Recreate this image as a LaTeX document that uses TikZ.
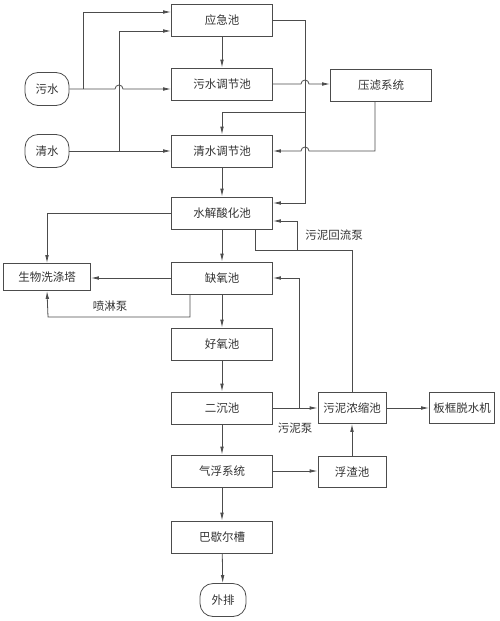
\documentclass[tikz,border=0pt]{standalone}
\usepackage{fontspec}
\newfontfamily\cjk{Noto Sans CJK SC}
\usetikzlibrary{positioning, arrows.meta, calc}

\begin{document}
\begin{tikzpicture}[
		x=1pt, y=-1pt,
		font=\cjk\fontsize{11.5}{13}\selectfont,
		tank/.style={draw=black!70, line width=0.8pt, text=black!80, minimum width=101pt, minimum height=32pt, inner sep=0pt},
		smalltank/.style={tank, minimum width=68pt, minimum height=31pt},
		terminal/.style={draw=black!70, line width=0.8pt, text=black!80, rounded corners=13pt, minimum width=44pt, minimum height=33pt, inner sep=0pt},
		flow/.style={-{Latex[length=8pt, width=3.6pt]}, line width=0.8pt, black!70},
		pipe/.style={line width=0.8pt, black!70},
		pumplabel/.style={text=black!80}
		]
		\useasboundingbox (0,0) rectangle (500,621);
		
		% 1. Main treatment line
		\node[tank] (yj) at (222,20) {应急池};
		\node[tank] (wtj) at (222,84) {污水调节池};
		\node[tank] (qtj) at (222,151) {清水调节池};
		\node[tank] (sj) at (222,213) {水解酸化池};
		\node[tank] (qy) at (222,278) {缺氧池};
		\node[tank] (hy) at (222,344) {好氧池};
		\node[tank] (ec) at (222,408) {二沉池};
		\node[tank] (qf) at (222,471) {气浮系统};
		\node[tank] (bx) at (222,537) {巴歇尔槽};
		\node[terminal, minimum width=46pt] (wp) at (223,600) {外排};
		
		% 2. Inlets and side units
		\node[terminal] (wu) at (47,89) {污水};
		\node[terminal] (qs) at (47,151) {清水};
		\node[tank] (yl) at (381,85) {压滤系统};
		\node[tank, minimum width=87pt, minimum height=27pt] (sw) at (47,277) {生物洗涤塔};
		\node[smalltank] (wn) at (352,408) {污泥浓缩池};
		\node[tank, minimum width=65pt, minimum height=31pt] (bk) at (462,408) {板框脱水机};
		\node[smalltank] (fz) at (352,472) {浮渣池};
		
		% Junctions
		\coordinate (wj) at (83,89);
		\coordinate (qj) at (119,151);
		\coordinate (rj) at (305,112);
		\coordinate (pj) at (297,250);
		\coordinate (nj) at (299,408);
		
		% Inlet pipes (hop where they cross)
		\draw[flow] (wu.east) -- (115,89) arc[start angle=180, end angle=0, radius=4pt] -- (wu.east -| wtj.west);
		\draw[flow] (wj) |- ([yshift=8pt]yj.west);
		\draw[flow] (qs.east) -- (qs.east -| qtj.west);
		\draw[flow] (qj) |- ([yshift=-11pt]yj.west);
		
		% Emergency tank overflow
		\draw[flow] (yj.east) -| (305,203) -- ([yshift=10pt]sj.east);
		\draw[flow] (rj) -| (qtj.north);
		
		% Filter press loop
		\draw[flow] (wtj.east) -- (301,84) arc[start angle=180, end angle=0, radius=4pt] -- (wtj.east -| yl.west);
		\draw[flow] ([xshift=-6pt]yl.south) |- (309,151) arc[start angle=0, end angle=180, radius=4pt] -- (qtj.east);
		
		% Vertical flow
		\draw[flow] (yj) -- (wtj);
		\draw[flow] (qtj) -- (sj);
		\draw[flow] (sj) -- (qy);
		\draw[flow] (qy) -- (hy);
		\draw[flow] (hy) -- (ec);
		\draw[flow] (ec) -- (qf);
		\draw[flow] (qf) -- (bx);
		\draw[flow] (bx) -- (wp);
		
		% 3. Deodorising scrubber
		\draw[flow] (sj.west) -| (sw.north);
		\draw[flow] (qy.west) -- (qy.west -| sw.east);
		\draw[flow] ([xshift=-32pt]qy.south) |- (48,317) -- (sw.south);
		\node[pumplabel] (pl) at (110,306) {喷淋泵};
		
		% 4. Sludge return
		\draw[pipe] (wn.north) |- (255,250) -- (255,229);
		\draw[flow] (pj) |- ([yshift=-8pt]sj.east);
		\node[pumplabel] (hl) at (334,235) {污泥回流泵};
		\draw[flow] (ec.east) -- (wn.west);
		\draw[flow] (nj) |- (qy.east);
		\node[pumplabel] (nl) at (295,428) {污泥泵};
		
		% 5. Sludge and scum handling
		\draw[flow] (wn.east) -- (bk.west);
		\draw[flow] (qf.east) -- (qf.east -| fz.west);
		\draw[flow] (fz.north) -- (wn.south);
		
	\end{tikzpicture}
\end{document}
